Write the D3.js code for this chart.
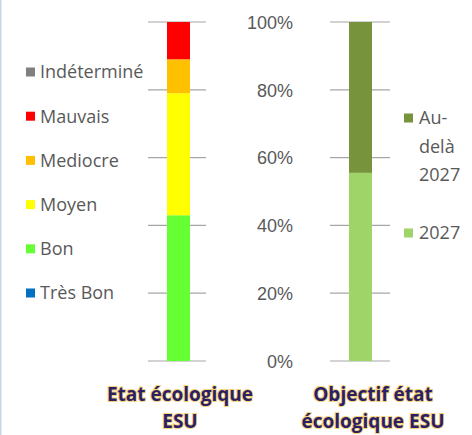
<!DOCTYPE html>
<html lang="fr">
<head>
  <meta charset="UTF-8">
  <title>Etat écologique ESU</title>
  <script src="https://d3js.org/d3.v7.min.js"></script>
  <style>
    body {
      margin: 0;
      background: #ffffff;
      font-family: 'Open Sans', sans-serif;
    }
    svg { display: block; }
    .grid line { stroke: #a6a6a6; stroke-width: 1.2; }
    .tick text { fill: #595959; font-size: 18px; }
    .legend text { fill: #595959; font-size: 18px; }
    .cat text {
      fill: #2b1f66;
      font-weight: 700;
      font-size: 19px;
      stroke: #f2a900;
      stroke-width: 2px;
      stroke-opacity: 0.55;
      paint-order: stroke;
    }
  </style>
</head>
<body>
  <svg width="472" height="435"></svg>

  <script>
    // état écologique (%)
    const etatNames = ["Bon", "Moyen", "Mediocre", "Mauvais"];
    const etatValues = [43, 36, 10, 11];
    const etatColors = ["#66ff33", "#ffff00", "#ffc000", "#ff0000"];

    // légende de gauche (haut en bas)
    const legendLeft = ["Indéterminé", "Mauvais", "Mediocre", "Moyen", "Bon", "Très Bon"];
    const legendLeftColors = ["#808080", "#ff0000", "#ffc000", "#ffff00", "#66ff33", "#0070c0"];

    // objectif (%)
    const objNames = ["2027", "Au-delà 2027"];
    const objValues = [55.5, 44.5];
    const objColors = ["#9fd468", "#77933c"];

    const ticks = [0, 20, 40, 60, 80, 100];

    const svg = d3.select("svg");
    const y = d3.scaleLinear().domain([0, 100]).range([361, 22]);

    // bordure gauche
    svg.append("line")
      .attr("x1", 0.5).attr("x2", 0.5).attr("y1", 0).attr("y2", 435)
      .attr("stroke", "#c9d5e2").attr("stroke-width", 2);

    function stacked(names, values, colors, x0, x1, gx0, gx1) {
      svg.append("g").attr("class", "grid")
        .selectAll("line").data(ticks).enter().append("line")
        .attr("x1", gx0).attr("x2", gx1)
        .attr("y1", d => y(d)).attr("y2", d => y(d));

      let acc = 0;
      const segs = values.map((v, i) => {
        const s = { name: names[i], lo: acc, hi: acc + v, color: colors[i] };
        acc += v;
        return s;
      });
      svg.append("g").selectAll("rect").data(segs).enter().append("rect")
        .attr("x", x0).attr("width", x1 - x0)
        .attr("y", d => y(d.hi)).attr("height", d => y(d.lo) - y(d.hi))
        .attr("fill", d => d.color);
    }

    stacked(etatNames, etatValues, etatColors, 167, 190, 148, 206);
    stacked(objNames, objValues, objColors, 349, 372, 330, 390);

    // axe des pourcentages
    const axis = d3.axisLeft(y).tickValues(ticks).tickFormat(d => d + "%").tickSize(0).tickPadding(0);
    const ax = svg.append("g").attr("transform", "translate(293,0)").call(axis);
    ax.select(".domain").remove();
    ax.selectAll("text").attr("dy", "0.35em");

    // légende gauche
    const lg = svg.append("g").attr("class", "legend");
    legendLeft.forEach((name, i) => {
      const cy = 72 + i * 44.2;
      lg.append("rect").attr("x", 26).attr("y", cy - 4.5).attr("width", 9).attr("height", 9)
        .attr("fill", legendLeftColors[i]);
      lg.append("text").attr("x", 40).attr("y", cy).attr("dy", "0.35em").text(name);
    });

    // légende droite
    const lr = svg.append("g").attr("class", "legend");
    const rightItems = [
      { lines: ["Au-", "delà", "2027"], color: objColors[1], cy: 118 },
      { lines: ["2027"], color: objColors[0], cy: 233 }
    ];
    rightItems.forEach(it => {
      lr.append("rect").attr("x", 404).attr("y", it.cy - 4.5).attr("width", 9).attr("height", 9)
        .attr("fill", it.color);
      it.lines.forEach((t, j) => {
        lr.append("text").attr("x", 419).attr("y", it.cy + j * 28.5).attr("dy", "0.35em").text(t);
      });
    });

    // catégories
    const cats = [
      { x: 180, lines: ["Etat écologique", "ESU"] },
      { x: 373, lines: ["Objectif état", "écologique ESU"] }
    ];
    const cg = svg.append("g").attr("class", "cat");
    cats.forEach(c => {
      c.lines.forEach((t, j) => {
        cg.append("text").attr("x", c.x).attr("y", 394 + j * 27).attr("dy", "0.35em")
          .attr("text-anchor", "middle").text(t);
      });
    });
  </script>
</body>
</html>
